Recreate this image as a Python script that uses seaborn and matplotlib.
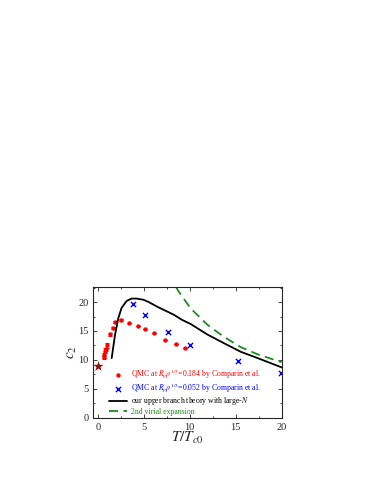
import numpy as np
import pandas as pd
import matplotlib
matplotlib.use("Agg")
import matplotlib.pyplot as plt
import seaborn as sns
from matplotlib.ticker import MultipleLocator

# QMC, R_p rho^(1/3) = 0.184
red_T = [0.62, 0.66, 0.77, 0.9, 1.02, 1.35, 1.6, 1.9, 2.55, 3.39, 4.34, 5.1, 6.08, 7.25, 8.45, 9.43]
red_c2 = [10.5, 10.8, 11.6, 11.8, 12.5, 14.4, 15.5, 16.5, 16.9, 16.4, 15.8, 15.3, 14.6, 13.5, 12.8, 12.0]
red_err = [0.4, 0.4, 0.4, 0.3, 0.4, 0.3, 0.2, 0.2, 0.2, 0, 0, 0, 0, 0, 0, 0]

# QMC, R_p rho^(1/3) = 0.052
blue_T = [3.79, 5.1, 7.58, 10.05, 15.2, 19.9]
blue_c2 = [19.6, 17.7, 14.8, 12.65, 9.8, 7.7]

# upper branch theory, large-N
theory_T = [1.5, 1.86, 2.22, 2.58, 3.13, 3.67, 4.2, 4.95, 5.53, 6.45, 7.36, 8.27,
            9.18, 10.1, 11.9, 13.7, 15.55, 17.4, 20.0]
theory_c2 = [10.3, 14.3, 17.2, 19.0, 20.2, 20.6, 20.6, 20.4, 20.0, 19.2, 18.5, 17.8,
             16.9, 16.2, 14.4, 12.9, 11.4, 10.3, 8.7]

# 2nd virial expansion
virial_T = [8.5, 8.8, 10.1, 11.9, 13.7, 15.55, 17.4, 20.0]
virial_c2 = [22.6, 21.8, 18.9, 16.1, 14.0, 12.2, 10.95, 9.6]

star_T = [0.0]
star_c2 = [8.95]

sns.set_style("ticks")
plt.rcParams["font.family"] = ["Liberation Serif", "DejaVu Serif"]
plt.rcParams["mathtext.fontset"] = "stix"

fig = plt.figure(figsize=(3.74, 4.84), dpi=100)
ax = fig.add_axes([0.2495, 0.137, 0.5035, 0.27])

ax.errorbar(red_T, red_c2, yerr=red_err, fmt="none", ecolor="red", elinewidth=0.8,
            capsize=1.5, capthick=0.8)
sns.scatterplot(x=red_T, y=red_c2, ax=ax, color="red", s=10, linewidth=0,
                label=r"QMC at $R_p\rho^{1/3}$=0.184 by Comparin et al.")
sns.scatterplot(x=blue_T, y=blue_c2, ax=ax, color="blue", marker="x", s=14,
                linewidth=1.0, label=r"QMC at $R_p\rho^{1/3}$=0.052 by Comparin et al.")
sns.lineplot(x=theory_T, y=theory_c2, ax=ax, color="black", lw=1.3,
             label=r"our upper branch theory with large-$N$")
sns.lineplot(x=virial_T, y=virial_c2, ax=ax, color="#1a8c1a", lw=1.3,
             label="2nd virial expansion")
ax.lines[-1].set_dashes((5, 3))
sns.scatterplot(x=star_T, y=star_c2, ax=ax, color="#8b1010", marker="*", s=60,
                linewidth=0, zorder=5)

ax.set_xlim(-0.5, 20)
ax.set_ylim(0, 22.6)
ax.xaxis.set_major_locator(MultipleLocator(5))
ax.xaxis.set_minor_locator(MultipleLocator(2.5))
ax.yaxis.set_major_locator(MultipleLocator(5))
ax.yaxis.set_minor_locator(MultipleLocator(2.5))
ax.tick_params(which="both", direction="in", top=True, right=True, labelsize=7.5)
ax.tick_params(which="major", length=3, width=0.6)
ax.tick_params(which="minor", length=1.6, width=0.6)
for s in ax.spines.values():
    s.set_linewidth(0.8)

ax.set_xlabel(r"$T/T_{c0}$", fontsize=11, labelpad=-1)
ax.set_ylabel(r"$c_2$", fontsize=11, labelpad=-1)

leg = ax.legend(loc="upper left", bbox_to_anchor=(0.06, 0.41), frameon=False,
                fontsize=5.6, handlelength=2.4, handletextpad=0.5, handleheight=0.5,
                labelspacing=0.05, borderpad=0, markerscale=1.0)
for text, c in zip(leg.get_texts(), ["red", "blue", "black", "#1a8c1a"]):
    text.set_color(c)

fig.savefig("out.png", dpi=100)
